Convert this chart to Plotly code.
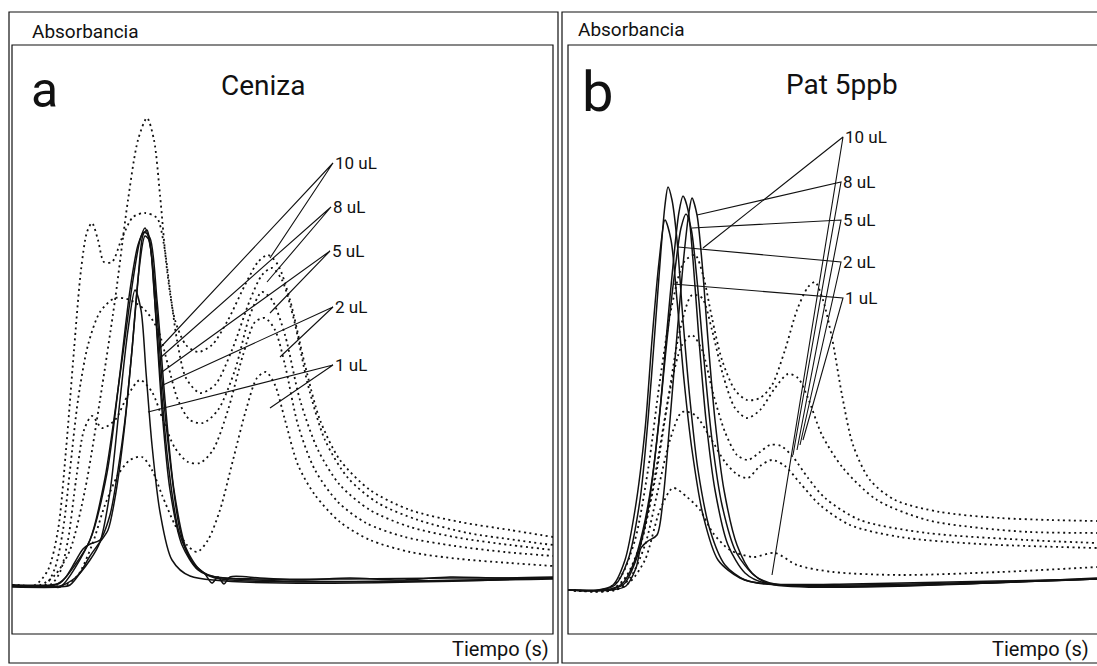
import plotly.graph_objects as go

W, H = 1097, 666

# ---------------- Panel a: Ceniza (time in s, absorbance in mAU) ----------------
a_solid_1_t = [0, 3.8, 4.8, 6.3, 7.8, 9.3, 10.8, 12.1, 12.8, 13.3, 13.8, 14.4, 15.0, 15.8, 16.8, 18.0, 19.3, 20.0, 20.6, 21.2, 21.8, 24.8, 28.8, 33.8, 38.8, 43.8, 48.8, 54.1]
a_solid_1_y = [0, 0, 0.4, 4, 9, 21.4, 42, 61, 69, 71.4, 68, 57, 41, 25, 11, 4.6, 2.2, 0.4, 1.6, 0.2, 1.6, 1.4, 1.0, 1.4, 1.0, 1.6, 1.4, 1.6]
a_solid_2_t = [0, 4.3, 5.3, 6.3, 7.1, 7.8, 8.8, 9.8, 10.6, 11.3, 12.0, 12.6, 13.1, 13.5, 13.9, 14.4, 15.0, 15.8, 17.0, 18.6, 20.3, 24.8, 33.8, 43.8, 54.1]
a_solid_2_y = [0, 0, 1.4, 4.6, 7.2, 8.2, 9, 14, 23, 33, 47, 61, 70, 71, 67, 53, 35, 19, 8, 3, 1.6, 1.2, 1.2, 1.4, 1.4]
a_solid_3_t = [0, 4.8, 5.8, 6.8, 7.8, 8.8, 9.6, 10.4, 11.2, 12.0, 12.7, 13.3, 13.7, 14.2, 14.8, 15.6, 16.7, 18.3, 20.0, 54.1]
a_solid_3_y = [-0.4, -0.4, 0, 2.4, 5.8, 8.6, 11, 18.6, 30.6, 47, 63, 69.8, 69, 59, 42.6, 24.6, 10.6, 3.8, 1.8, 1.2]
a_solid_4_t = [0, 4.8, 6.3, 7.8, 8.8, 9.8, 10.8, 11.6, 12.3, 12.9, 13.4, 14.0, 14.8, 16.0, 17.8, 54.1]
a_solid_4_y = [-0.2, -0.2, 1.4, 5, 8.6, 18.6, 37, 51, 59, 55, 42.6, 28, 14.6, 5, 1.8, 1.4]
a_solid_5_t = [0, 3.8, 4.8, 7.8, 9.5, 10.8, 11.8, 12.6, 13.2, 13.8, 14.5, 15.3, 16.2, 17.4, 18.8, 20.3, 54.1]
a_solid_5_y = [-0.2, -0.2, -0.4, 9, 22.4, 42.4, 59, 68, 70.6, 69.4, 57, 37, 19, 7.4, 3, 1.4, 1.4]

a_dot_1_t = [0, 2.8, 4.3, 5.8, 7.3, 8.8, 10.3, 11.6, 12.6, 13.5, 14.2, 14.8, 15.5, 16.3, 17.4, 18.6, 20.0, 21.6, 23.3, 24.6, 25.6, 26.6, 27.8, 29.3, 30.8, 32.8, 35.8, 39.8, 44.8, 49.8, 54.1]
a_dot_1_y = [0, 0, 2, 7, 19, 37, 57, 77, 89, 93.4, 89, 78, 63, 53, 48, 46.6, 48, 53, 60, 64.6, 66, 64, 57, 44, 33, 25, 19, 15, 12.6, 11, 9.6]
a_dot_2_t = [0, 2.3, 3.6, 4.6, 5.4, 6.2, 6.9, 7.5, 8.0, 8.6, 9.2, 10.0, 11.0, 12.1, 13.3, 14.5, 15.2, 15.8, 16.5, 17.4, 18.8, 20.3, 22.0, 23.8, 25.0, 26.0, 27.0, 28.2, 29.6, 31.3, 33.6, 36.6, 40.6, 45.6, 50.3, 54.1]
a_dot_2_y = [0, 0, 3, 11, 27, 47, 63, 70.6, 72.4, 69, 64.6, 64.6, 69.4, 73.6, 74.4, 73.4, 68, 59, 49, 41.4, 38.4, 40, 47, 57, 62, 63.4, 61, 53, 40, 29, 21.4, 16.4, 13, 10.4, 9, 8]
a_dot_3_t = [0, 3.3, 4.3, 5.1, 5.8, 6.6, 7.6, 8.8, 10.3, 11.8, 13.3, 14.6, 15.6, 16.6, 17.8, 19.1, 20.6, 22.3, 23.8, 25.0, 26.0, 27.3, 28.8, 30.6, 32.8, 35.8, 39.8, 44.8, 49.8, 54.1]
a_dot_3_y = [0, 0, 3.4, 11, 23, 37, 48, 54.6, 57.4, 57, 55, 51, 44, 37, 33, 32.4, 35, 43, 54, 58.6, 57, 50, 37, 27, 20, 15, 11.6, 9.4, 8, 7]
a_dot_4_t = [0, 3.8, 4.8, 5.6, 6.4, 7.2, 8.0, 9.0, 10.3, 11.6, 12.8, 14.0, 15.1, 16.3, 17.6, 18.8, 20.1, 21.6, 23.1, 24.3, 25.3, 26.3, 27.3, 28.6, 30.3, 32.6, 35.4, 39.3, 44.3, 49.3, 54.1]
a_dot_4_y = [0, 0, 2.6, 9, 21, 31, 33.8, 31.4, 33, 38, 41, 38.6, 33, 27.4, 24.6, 24.4, 27, 35, 46, 52.6, 53.4, 51, 44, 32, 23, 16.6, 12.4, 9.6, 7.8, 6.6, 5.8]
a_dot_5_t = [0, 5.3, 6.6, 8.0, 9.3, 10.6, 11.8, 13.0, 14.0, 15.0, 16.3, 17.5, 18.5, 19.6, 20.8, 22.1, 23.4, 24.5, 25.4, 26.3, 27.3, 28.6, 30.3, 32.8, 35.8, 39.8, 44.8, 49.8, 54.1]
a_dot_5_y = [0, 0, 2, 8, 16, 22, 25, 25.6, 23, 18, 12, 8, 6.6, 9, 15, 25, 35, 41.4, 42.6, 40, 33, 24, 18, 12.6, 9, 6.6, 5.2, 4.4, 3.8]

# ---------------- Panel b: Pat 5ppb ----------------
b_solid_1_t = [0, 3.2, 4.7, 6.0, 7.2, 8.0, 8.7, 9.3, 9.7, 10.0, 10.4, 10.9, 11.5, 12.2, 13.0, 14.2, 15.7, 17.7, 20.2, 28.2, 38.2, 48.2, 52.9]
b_solid_1_y = [-1, -1, 0, 5, 17, 33, 51, 67, 76, 79.6, 77, 69, 53, 37, 23, 11, 4, 1, 0.2, 0.2, 0.6, 1, 1.2]
b_solid_2_t = [0, 3.0, 4.5, 5.7, 6.7, 7.7, 8.4, 9.1, 9.7, 10.3, 10.9, 11.6, 12.4, 13.5, 15.0, 17.2, 19.7, 52.9]
b_solid_2_y = [-1, -1, 0, 5, 15, 31, 49, 64.6, 73, 69, 57, 41, 27, 14, 5, 1.4, 0.2, 1.2]
b_solid_3_t = [0, 3.7, 5.4, 6.5, 7.5, 8.4, 9.2, 9.9, 10.6, 11.1, 11.5, 12.0, 12.5, 13.1, 13.8, 14.7, 16.0, 17.7, 19.7, 52.9]
b_solid_3_y = [-1, -1, 0.2, 4, 11, 21, 35, 51, 66, 74.6, 77.8, 75, 65, 49, 33, 19, 8, 2.4, 0.4, 1.2]
b_solid_4_t = [0, 4.4, 5.8, 6.8, 7.3, 8.0, 8.9, 9.5, 10.2, 10.9, 11.6, 12.1, 12.4, 12.9, 13.4, 14.0, 14.7, 15.6, 16.9, 18.4, 20.2, 52.9]
b_solid_4_y = [-1, -1, -0.2, 3.4, 7.4, 8.8, 10, 17, 33, 50, 66, 74.6, 77.4, 74, 64.6, 49, 33, 19, 8, 2.4, 0.2, 1.4]
b_solid_5_t = [0, 4.0, 5.6, 6.8, 8.0, 9.0, 9.9, 10.7, 11.3, 11.8, 12.3, 12.9, 13.6, 14.4, 15.4, 16.8, 18.7, 20.7, 52.9]
b_solid_5_y = [-1, -1, 0.2, 5, 15, 31, 49, 63, 71.4, 74.2, 71.4, 61, 45, 29, 16, 6.6, 1.8, 0.2, 1.2]

b_dot_1_t = [0, 3.7, 5.2, 6.7, 8.0, 9.2, 10.4, 11.6, 12.7, 13.5, 14.4, 15.4, 16.7, 17.9, 19.2, 20.4, 21.7, 22.9, 24.0, 24.7, 25.5, 26.4, 27.4, 28.5, 30.2, 32.7, 37.2, 43.2, 48.2, 52.9]
b_dot_1_y = [-1, -1, 1.4, 9, 23, 41, 56, 64.6, 66, 62, 53.4, 45, 39, 37, 37.4, 40, 47, 55, 59.6, 60.6, 57, 49.4, 38, 28, 21, 17, 14.6, 13.4, 13, 12.8]
b_dot_2_t = [0, 4.2, 5.7, 7.2, 8.7, 10.0, 11.2, 12.4, 13.4, 14.4, 15.5, 16.7, 17.9, 19.2, 20.7, 22.0, 23.0, 24.0, 25.4, 27.5, 30.9, 35.9, 41.2, 46.2, 52.9]
b_dot_2_y = [-1, -1, 1.4, 8, 21, 37, 51, 58, 57.4, 51, 42, 35.4, 33.4, 35, 39.4, 42.2, 41.4, 37.4, 30, 23.4, 17, 13, 11.4, 10.6, 10.4]
b_dot_3_t = [0, 4.4, 6.0, 7.4, 8.8, 10.2, 11.4, 12.4, 13.4, 14.5, 15.7, 16.9, 18.0, 19.2, 20.2, 21.3, 22.5, 24.0, 25.7, 29.2, 35.9, 45.9, 52.9]
b_dot_3_y = [-1, -1, 2, 9, 23, 39, 48, 50, 47, 38.4, 30.6, 26, 25, 26.6, 28, 27.8, 25.6, 21.4, 17.4, 13, 10.4, 9, 8.4]
b_dot_4_t = [0, 4.7, 6.2, 7.7, 9.0, 10.2, 11.4, 12.7, 14.2, 15.7, 17.0, 18.0, 19.2, 20.4, 21.7, 23.2, 25.2, 28.2, 33.2, 41.2, 52.9]
b_dot_4_y = [-1, -1, 1.4, 8, 19, 29, 34.6, 34, 29.6, 24.6, 22, 21.4, 23.8, 25, 23.8, 20.4, 16, 12, 9.6, 8.2, 7.4]
b_dot_5_t = [0, 4.7, 6.2, 7.7, 9.2, 10.5, 11.9, 13.2, 14.5, 16.2, 18.5, 20.7, 22.9, 26.5, 33.2, 43.2, 52.9]
b_dot_5_y = [-1, -1, 0.6, 5, 15, 19.4, 17.6, 15, 10.4, 7, 5.6, 6.4, 4, 2.6, 2, 2.6, 3.6]

# Volume labels and the points their leader lines point to
volumes = ["10 uL", "8 uL", "5 uL", "2 uL", "1 uL"]
a_label_t = [32.1, 31.9, 31.8, 32.1, 32.1]
a_label_y = [84.4, 75.6, 66.8, 55.6, 44.0]
a_tip1_t = [14.8, 14.8, 15.0, 15.1, 13.6]
a_tip1_y = [47.4, 45.4, 42.6, 40.0, 34.6]
a_tip2_t = [25.8, 25.5, 25.8, 26.8, 25.8]
a_tip2_y = [65.4, 60.6, 54.4, 45.6, 35.4]

b_label_t = [27.5, 27.3, 27.3, 27.3, 27.5]
b_label_y = [89.6, 80.6, 73.0, 64.6, 57.4]
b_tip1_t = [13.5, 12.9, 12.4, 11.0, 10.5]
b_tip1_y = [67.4, 74.0, 71.4, 67.6, 60.2]
b_tip2_t = [20.4, 22.5, 22.9, 23.2, 23.5]
b_tip2_y = [2.0, 26.0, 27.0, 28.0, 29.0]

a_solids = [(a_solid_1_t, a_solid_1_y), (a_solid_2_t, a_solid_2_y), (a_solid_3_t, a_solid_3_y),
            (a_solid_4_t, a_solid_4_y), (a_solid_5_t, a_solid_5_y)]
a_dots = [(a_dot_1_t, a_dot_1_y), (a_dot_2_t, a_dot_2_y), (a_dot_3_t, a_dot_3_y),
          (a_dot_4_t, a_dot_4_y), (a_dot_5_t, a_dot_5_y)]
b_solids = [(b_solid_1_t, b_solid_1_y), (b_solid_2_t, b_solid_2_y), (b_solid_3_t, b_solid_3_y),
            (b_solid_4_t, b_solid_4_y), (b_solid_5_t, b_solid_5_y)]
b_dots = [(b_dot_1_t, b_dot_1_y), (b_dot_2_t, b_dot_2_y), (b_dot_3_t, b_dot_3_y),
          (b_dot_4_t, b_dot_4_y), (b_dot_5_t, b_dot_5_y)]

INK = "#111111"
FONT = "Roboto, Liberation Sans, sans-serif"

fig = go.Figure()


def add_panel(solids, dots, xa, ya):
    for t, y in dots:
        fig.add_trace(go.Scatter(x=t, y=y, mode="lines", xaxis=xa, yaxis=ya,
                                 line=dict(color=INK, width=1.8, dash="2px,3.5px", shape="spline", smoothing=0.8),
                                 hoverinfo="skip", showlegend=False))
    for t, y in solids:
        fig.add_trace(go.Scatter(x=t, y=y, mode="lines", xaxis=xa, yaxis=ya,
                                 line=dict(color=INK, width=1.5, shape="spline", smoothing=0.8),
                                 hoverinfo="skip", showlegend=False))


def add_leaders(lt, ly, t1, y1, t2, y2, xa, ya):
    for i in range(len(volumes)):
        fig.add_trace(go.Scatter(x=[t1[i], lt[i], t2[i]], y=[y1[i], ly[i], y2[i]], mode="lines",
                                 xaxis=xa, yaxis=ya, line=dict(color=INK, width=1.1),
                                 hoverinfo="skip", showlegend=False))
        fig.add_annotation(x=lt[i], y=ly[i], xref=xa, yref=ya, text=volumes[i],
                           xanchor="left", yanchor="middle", xshift=0, showarrow=False,
                           font=dict(family=FONT, size=17, color=INK))


add_panel(a_solids, a_dots, "x", "y")
add_panel(b_solids, b_dots, "x2", "y2")
add_leaders(a_label_t, a_label_y, a_tip1_t, a_tip1_y, a_tip2_t, a_tip2_y, "x", "y")
add_leaders(b_label_t, b_label_y, b_tip1_t, b_tip1_y, b_tip2_t, b_tip2_y, "x2", "y2")


def px(v):
    return v / W


def py(v):
    return 1 - v / H


hidden = dict(visible=False, showgrid=False, zeroline=False)
y_range = [-9.8, 108]
fig.update_layout(
    width=W, height=H, margin=dict(l=0, r=0, t=0, b=0),
    paper_bgcolor="white", plot_bgcolor="white",
    xaxis=dict(domain=[px(12), px(553)], range=[0, 54.1], **hidden),
    yaxis=dict(domain=[py(634), py(45)], range=y_range, **hidden),
    xaxis2=dict(domain=[px(568), 1.0], range=[0, 52.9], anchor="y2", **hidden),
    yaxis2=dict(domain=[py(634), py(45)], range=y_range, anchor="x2", **hidden),
)

# Panel frames: outer boxes and plotting boxes
frame = dict(color=INK, width=1.2)
shapes = [
    dict(type="rect", xref="paper", yref="paper", x0=px(9), x1=px(558), y0=py(663), y1=py(12), line=frame),
    dict(type="rect", xref="paper", yref="paper", x0=px(12), x1=px(553), y0=py(634), y1=py(45), line=frame),
    dict(type="rect", xref="paper", yref="paper", x0=px(562), x1=px(1110), y0=py(663), y1=py(12), line=frame),
    dict(type="rect", xref="paper", yref="paper", x0=px(568), x1=px(1110), y0=py(634), y1=py(45), line=frame),
]
fig.update_layout(shapes=shapes)

texts = [
    ("Absorbancia", 30, 31, 19, "left"),
    ("Absorbancia", 576, 30, 19, "left"),
    ("Ceniza", 263, 86, 28, "center"),
    ("Pat 5ppb", 842, 84, 28, "center"),
    ("a", 44, 90, 50, "center"),
    ("b", 597, 92, 56, "center"),
    ("Tiempo (s)", 500, 649, 20, "center"),
    ("Tiempo (s)", 1040, 649, 20, "center"),
]
for txt, x, y, size, anchor in texts:
    fig.add_annotation(x=px(x), y=py(y), xref="paper", yref="paper", text=txt, showarrow=False,
                       xanchor=anchor, yanchor="middle", font=dict(family=FONT, size=size, color=INK))

fig.write_html("out.html")
